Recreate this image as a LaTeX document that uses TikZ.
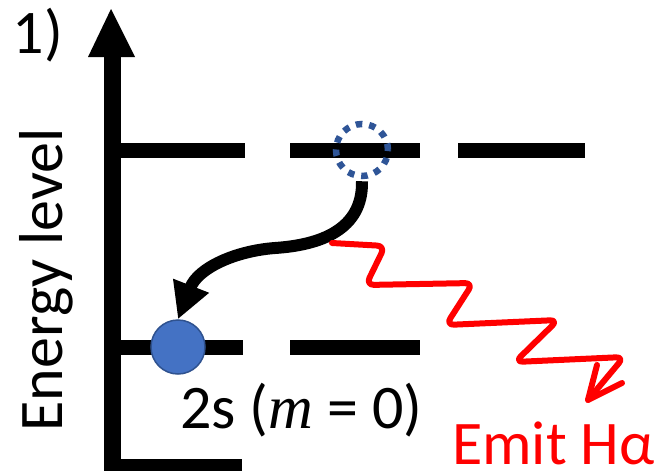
\documentclass[tikz,border=0pt]{standalone}
\usepackage{fontspec}
\setmainfont{Carlito}
\newfontfamily\varfont{Liberation Serif}
\usetikzlibrary{arrows.meta}
\definecolor{dotblue}{HTML}{2F5597}
\definecolor{ballfill}{HTML}{4472C4}
\definecolor{balledge}{HTML}{2F528F}
\tikzset{
  lvl/.style={line width=15pt},
  axis/.style={line width=17pt, line join=miter},
  bigtext/.style={font=\fontsize{62}{70}\selectfont, inner sep=0pt},
  photon/.style={red, line width=6pt, rounded corners=8pt, line cap=round, line join=round},
}
\begin{document}
\begin{tikzpicture}[x=1pt, y=-1pt]
\useasboundingbox (0,0) rectangle (657,471);
% axes
\draw[axis] (112.5,56) -- (112.5,467.5) -- (242,467.5);
\fill (88,57) -- (111,9) -- (135,57) -- cycle;
% energy levels
\draw[lvl] (112,150) -- (245,150);
\draw[lvl] (290,150) -- (420,150);
\draw[lvl] (458,150) -- (585,150);
\draw[lvl] (112,347) -- (243,347);
\draw[lvl] (290,347) -- (420,347);
% electrons
\node[circle, draw=dotblue, line width=6.5pt, dash pattern=on 6.5pt off 7pt, minimum size=52pt, inner sep=0pt] (up) at (362,150) {};
\node[circle, fill=ballfill, draw=balledge, line width=1.5pt, minimum size=54pt, inner sep=0pt] (low) at (178,347) {};
% transition arrow
\draw[line width=12pt, -{Triangle[length=36pt,width=36pt]}] ([yshift=-2pt]up.south) .. controls (363,230) and (320,245) .. (275,248) .. controls (235,251) and (198,268) .. (low.north);
% photon
\coordinate (p0) at (332,243);
\coordinate (tip) at (588,400);
\draw[photon] (p0) -- (385,246) -- (366,285) -- (473,283) -- (446,325) -- (558,320) -- (515,362) -- (624,357) -- (tip);
\draw[red, line width=6pt, line cap=round, line join=round] (597,365) -- (tip) -- (622,383);
% texts
\node[bigtext, rotate=90, anchor=base] (ylab) at (63,280) {Energy level};
\node[bigtext, anchor=base west] (lab2s) at (180,428) {2s ({\varfont\itshape m} = 0)};
\node[bigtext, anchor=base west, text=red] (emit) at (452,464) {Emit Hα};
\node[bigtext, anchor=base east] (n1) at (63,53) {= 1)};
\end{tikzpicture}
\end{document}
